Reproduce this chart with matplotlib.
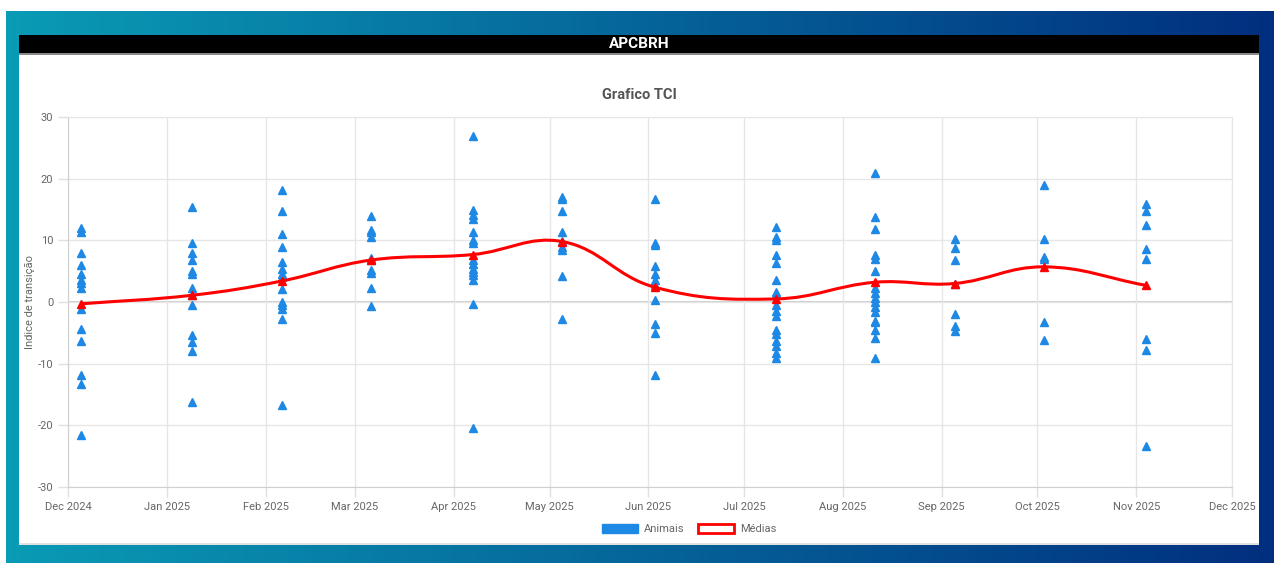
import numpy as np
import matplotlib
matplotlib.use("Agg")
import matplotlib.pyplot as plt
import matplotlib.dates as mdates
from matplotlib.patches import Rectangle, Patch
from matplotlib.path import Path
from matplotlib.patches import PathPatch
import datetime as dt

plt.rcParams['font.family'] = ['Roboto', 'DejaVu Sans']
plt.rcParams['axes.unicode_minus'] = False

# Collection dates (one column of animals per visit)
visit_dates = ['2024-12-05', '2025-01-09', '2025-02-06', '2025-03-06', '2025-04-07', '2025-05-05',
               '2025-06-03', '2025-07-11', '2025-08-11', '2025-09-05', '2025-10-03', '2025-11-04']

# TCI of each animal, per visit
tci_dec = [12.0, 11.4, 8.0, 6.0, 4.6, 3.5, 3.1, 2.2, -1.1, -4.3, -6.4, -11.8, -13.3, -21.5]
tci_jan = [15.4, 9.5, 7.9, 6.8, 5.1, 4.5, 2.2, 1.1, -0.5, -5.4, -6.5, -7.9, -16.2]
tci_feb = [18.1, 14.8, 11.0, 9.0, 6.5, 5.4, 4.6, 4.1, 2.1, 0.0, -0.5, -1.1, -2.8, -16.7]
tci_mar = [14.0, 11.7, 11.3, 10.5, 7.2, 6.8, 5.2, 4.7, 2.3, -0.7]
tci_apr = [27.0, 14.9, 14.1, 13.5, 11.3, 10.1, 9.6, 6.8, 6.1, 5.4, 4.9, 4.3, 3.6, -0.3, -20.5]
tci_may = [17.1, 16.7, 14.7, 11.4, 9.9, 9.0, 8.4, 4.2, -2.8]
tci_jun = [16.7, 9.6, 9.2, 5.9, 4.5, 3.5, 2.7, 0.3, -3.5, -5.1, -11.8]
tci_jul = [12.2, 10.5, 10.1, 7.6, 6.4, 3.6, 1.6, 1.1, -0.5, -1.4, -2.2, -4.6, -5.2, -6.3, -7.2, -8.2, -9.0]
tci_aug = [21.0, 13.8, 11.8, 7.6, 6.9, 5.0, 2.2, 1.4, 0.7, 0.0, -0.8, -1.7, -3.0, -3.3, -4.5, -5.9, -9.1]
tci_sep = [10.2, 8.8, 6.8, 2.9, -1.9, -3.9, -4.7]
tci_oct = [18.9, 10.2, 7.3, 7.0, -3.2, -6.1]
tci_nov = [15.9, 14.8, 12.5, 8.6, 7.0, -6.0, -7.8, -23.4]
animals = [tci_dec, tci_jan, tci_feb, tci_mar, tci_apr, tci_may,
           tci_jun, tci_jul, tci_aug, tci_sep, tci_oct, tci_nov]

# Mean per visit
means = [-0.3, 1.1, 3.4, 6.8, 7.7, 9.8, 2.4, 0.5, 3.2, 3.0, 5.7, 2.7]

BLUE = '#1E88E5'
RED = '#FF0000'

W, H = 1274, 563
fig = plt.figure(figsize=(W / 100, H / 100), dpi=100)

# background frame: gradient, white card, black header bar
bg = fig.add_axes([0, 0, 1, 1])
bg.axis('off')
c1 = np.array([0x0A, 0x9B, 0xB5]) / 255
c2 = np.array([0x01, 0x2F, 0x7F]) / 255
t = np.linspace(0, 1, 256)
grad = (c1[None, :] * (1 - t[:, None]) + c2[None, :] * t[:, None])[None, :, :]
bg.imshow(grad, extent=(6, W, H, 11), aspect='auto', zorder=0)
bg.add_patch(Rectangle((19, 35), 1240, 510, facecolor='white', edgecolor='none', zorder=1))
bg.add_patch(Rectangle((19, 53), 1240, 2, facecolor='#8a8a8a', edgecolor='none', zorder=2))
bg.add_patch(Rectangle((19, 35), 1240, 18, facecolor='black', edgecolor='none', zorder=2))
bg.add_patch(Rectangle((19, 543), 1240, 2, facecolor='#e2e2e2', edgecolor='none', zorder=2))
bg.set_xlim(0, W)
bg.set_ylim(H, 0)
fig.text(639 / W, 1 - 44 / H, 'APCBRH', color='white', fontsize=11, fontweight='bold',
         ha='center', va='center')
fig.text(639 / W, 1 - 95 / H, 'Grafico TCI', color='#555555', fontsize=10.5, fontweight='bold',
         ha='center', va='center')

ax = fig.add_axes([68 / W, 1 - 487 / H, (1232 - 68) / W, (487 - 117) / H])
ax.set_facecolor('none')

dates = [mdates.date2num(dt.date.fromisoformat(d)) for d in visit_dates]
for d, vals in zip(dates, animals):
    ax.plot([d] * len(vals), vals, linestyle='none', marker='^', ms=6,
            color=BLUE, zorder=3)

x0 = mdates.date2num(dt.date(2024, 12, 1))
x1 = mdates.date2num(dt.date(2025, 12, 1))
ax.set_xlim(x0, x1)
ax.set_ylim(-30, 30)

# smooth mean line (bezier spline, tension 0.4, computed in screen space)
fig.canvas.draw()
pts = ax.transData.transform(np.column_stack([dates, means]))
tension = 0.4
verts = [pts[0]]
codes = [Path.MOVETO]
cps = []
for i in range(len(pts)):
    prev = pts[max(i - 1, 0)]
    cur = pts[i]
    nxt = pts[min(i + 1, len(pts) - 1)]
    d01 = np.hypot(*(cur - prev))
    d12 = np.hypot(*(nxt - cur))
    tot = d01 + d12 if d01 + d12 > 0 else 1
    fa = tension * d01 / tot
    fb = tension * d12 / tot
    cps.append((cur - fa * (nxt - prev), cur + fb * (nxt - prev)))
for i in range(1, len(pts)):
    verts += [cps[i - 1][1], cps[i][0], pts[i]]
    codes += [Path.CURVE4] * 3
inv = ax.transData.inverted()
path = Path(inv.transform(np.array(verts)), codes)
ax.add_patch(PathPatch(path, facecolor='none', edgecolor=RED, lw=2.2, zorder=4))
ax.plot(dates, means, linestyle='none', marker='^', ms=5.5, color=RED, zorder=5)

months = [mdates.date2num(dt.date(2024 + (11 + k) // 12, (11 + k) % 12 + 1, 1)) for k in range(13)]
ax.set_xticks(months)
ax.xaxis.set_major_formatter(mdates.DateFormatter('%b %Y'))
ax.set_yticks(range(-30, 31, 10))
ax.grid(True, color='#e6e6e6', lw=1)
ax.axhline(0, color='#c8c8c8', lw=1.3, zorder=1)
ax.tick_params(axis='both', colors='#e0e0e0', labelcolor='#666666', labelsize=8, length=7, width=1)
for s in ['top', 'right']:
    ax.spines[s].set_color('#e6e6e6')
for s in ['left', 'bottom']:
    ax.spines[s].set_color('#d0d0d0')
ax.set_ylabel('Indice de transição', color='#666666', fontsize=8, labelpad=2)

handles = [Patch(facecolor=BLUE, edgecolor=BLUE, label='Animais'),
           Patch(facecolor='white', edgecolor=RED, lw=2, label='Médias')]
fig.legend(handles=handles, loc='center', bbox_to_anchor=(689 / W, 1 - 529 / H), ncol=2,
           frameon=False, fontsize=8, labelcolor='#666666', handlelength=3.3,
           handleheight=0.9, columnspacing=1.2, handletextpad=0.5)

fig.savefig('out.png', dpi=100)
